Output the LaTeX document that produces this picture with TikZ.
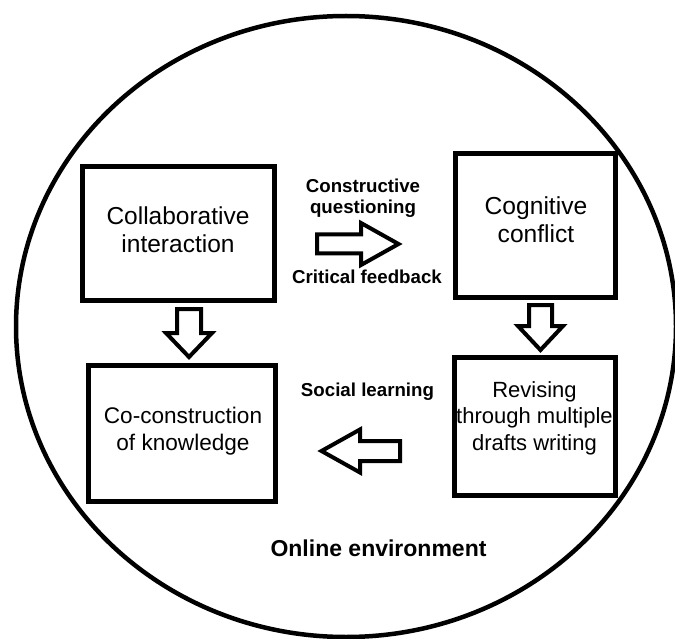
\documentclass[tikz,border=0pt]{standalone}
\usepackage{fontspec}
\setmainfont{Liberation Sans}
\usetikzlibrary{calc}
\begin{document}
\begin{tikzpicture}[x=1pt,y=-1pt,
  box/.style={draw, line width=5pt, inner sep=0pt},
  boxtext/.style={inner sep=0pt, anchor=north, align=center},
  lbl/.style={inner sep=0pt, font=\bfseries\fontsize{18.7}{21}\selectfont},
  barrow/.style={draw, line width=4pt, line join=miter, fill=white}]
\useasboundingbox (0,0) rectangle (675,639);
\fill[white] (0,0) rectangle (675,639);
% online environment
\draw[line width=4.5pt] (346,326.5) ellipse [x radius=330pt, y radius=310.5pt];
% boxes
\node[box, minimum width=192pt, minimum height=133pt] (A) at (178,233.5) {};
\node[box, minimum width=160pt, minimum height=143pt] (B) at (535,225.5) {};
\node[box, minimum width=187pt, minimum height=136pt] (C) at (181.5,433) {};
\node[box, minimum width=161pt, minimum height=138pt] (D) at (534.5,426) {};
% box texts
\node[boxtext, font=\fontsize{24.5}{28}\selectfont] (Atext) at (178,206.2) {Collaborative\\interaction};
\node[boxtext, font=\fontsize{24.6}{28}\selectfont] (Btext) at (536,196.1) {Cognitive\\conflict};
\node[boxtext, font=\fontsize{22.6}{27}\selectfont] (Ctext) at (183,406.5) {Co-construction\\of knowledge};
\node[boxtext, font=\fontsize{22}{26.5}\selectfont] (Dtext) at (534.5,381) {Revising\\through multiple\\drafts writing};
% labels
\node[lbl, boxtext] (q) at (363,178.4) {Constructive\\questioning};
\node[lbl, anchor=base] (cf) at (367,283.5) {Critical feedback};
\node[lbl, anchor=base] (sl) at (367.5,396) {Social learning};
\node[lbl, anchor=base, font=\bfseries\fontsize{23}{27}\selectfont] (env) at (378.5,556) {Online environment};
% arrow ends
\coordinate (r1t) at (317,244);
\coordinate (r1h) at (398.5,244);
\coordinate (d1t) at (189,309);
\coordinate (d1h) at (189,357);
\coordinate (d2t) at (540.5,305);
\coordinate (d2h) at (540.5,350);
\coordinate (l1t) at (400,451);
\coordinate (l1h) at (321.5,451);
% A -> B
\draw[barrow] ($(r1t)+(0,-9.5)$) -- ($(r1h)+(-37.5,-9.5)$) -- ($(r1h)+(-37.5,-21)$) -- (r1h)
  -- ($(r1h)+(-37.5,21)$) -- ($(r1h)+(-37.5,9.5)$) -- ($(r1t)+(0,9.5)$) -- cycle;
% A -> C
\draw[barrow] ($(d1t)+(-12,0)$) -- ($(d1h)+(-12,-24)$) -- ($(d1h)+(-23,-24)$) -- (d1h)
  -- ($(d1h)+(23,-24)$) -- ($(d1h)+(12,-24)$) -- ($(d1t)+(12,0)$) -- cycle;
% B -> D
\draw[barrow] ($(d2t)+(-11.5,0)$) -- ($(d2h)+(-11.5,-24)$) -- ($(d2h)+(-22.5,-24)$) -- (d2h)
  -- ($(d2h)+(22.5,-24)$) -- ($(d2h)+(11.5,-24)$) -- ($(d2t)+(11.5,0)$) -- cycle;
% D -> C
\draw[barrow] ($(l1t)+(0,-10)$) -- ($(l1h)+(38.5,-10)$) -- ($(l1h)+(38.5,-21.5)$) -- (l1h)
  -- ($(l1h)+(38.5,21.5)$) -- ($(l1h)+(38.5,10)$) -- ($(l1t)+(0,10)$) -- cycle;
\end{tikzpicture}
\end{document}
